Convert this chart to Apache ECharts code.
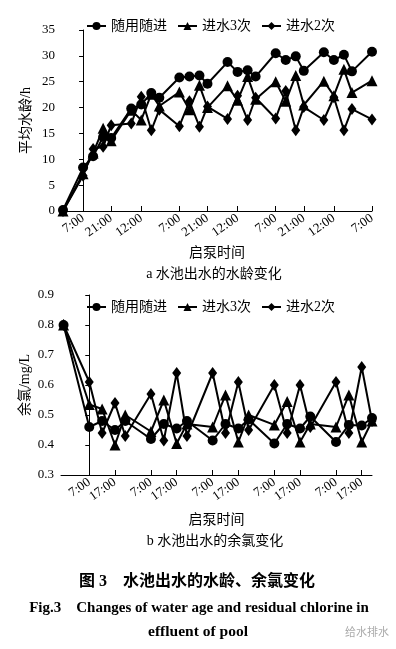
<!DOCTYPE html>
<html><head><meta charset="utf-8">
<script src="https://cdn.jsdelivr.net/npm/echarts@6/dist/echarts.min.js"></script>
<style>html,body{margin:0;padding:0;background:#fff}#c{width:396px;height:649px}</style>
</head><body><div id="c"></div>
<script>
const seriesNames = ['随用随进', '进水3次', '进水2次'];

// (a) water age, hours counted from the first 7:00 tick
const hoursA = [-10, 0, 5, 10, 14, 24, 29, 34, 38, 48, 53, 58, 62, 72, 77, 82, 86, 96, 101, 106, 110, 120, 125, 130, 134, 144];
const ageRandom = [0.2, 8.4, 10.6, 14.3, 14.1, 19.8, 20.6, 22.8, 21.9, 25.8, 26.0, 26.2, 24.6, 28.8, 26.9, 27.2, 26.0, 30.5, 29.2, 29.9, 27.1, 30.7, 29.2, 30.2, 27.0, 30.8];
const ageThree = [0, 7.2, 11.2, 16.0, 13.6, 19.5, 17.6, 22.6, 20.3, 23.0, 19.6, 24.3, 20.0, 24.2, 21.4, 26.0, 21.6, 25.0, 21.2, 26.2, 20.5, 25.1, 22.3, 27.4, 22.9, 25.2];
const ageTwo = [0, 6.8, 12.0, 12.4, 16.6, 16.9, 22.1, 15.6, 19.6, 16.4, 21.2, 16.3, 20.2, 17.8, 22.3, 17.6, 21.9, 17.9, 23.2, 15.6, 20.1, 17.6, 22.0, 15.6, 19.7, 17.7];
const tickHoursA = [0, 14, 29, 48, 62, 77, 96, 110, 125, 144];
const tickLabelsA = ['7:00', '21:00', '12:00', '7:00', '21:00', '12:00', '7:00', '21:00', '12:00', '7:00'];

// (b) residual chlorine
const hoursB = [-10, 0, 5, 10, 14, 24, 29, 34, 38, 48, 53, 58, 62, 72, 77, 82, 86, 96, 101, 106, 110];
const clRandom = [0.80, 0.46, 0.48, 0.45, 0.48, 0.42, 0.47, 0.455, 0.48, 0.415, 0.47, 0.455, 0.485, 0.405, 0.47, 0.455, 0.495, 0.41, 0.467, 0.465, 0.49];
const clThree = [0.80, 0.535, 0.52, 0.40, 0.50, 0.445, 0.55, 0.405, 0.47, 0.46, 0.567, 0.41, 0.50, 0.467, 0.545, 0.41, 0.47, 0.46, 0.567, 0.41, 0.48];
const clTwo = [0.80, 0.61, 0.44, 0.54, 0.43, 0.57, 0.415, 0.64, 0.43, 0.64, 0.44, 0.61, 0.45, 0.60, 0.44, 0.60, 0.46, 0.61, 0.44, 0.66, 0.48];
const tickHoursB = [0, 10, 24, 34, 48, 58, 72, 82, 96, 106];
const tickLabelsB = ['7:00', '17:00', '7:00', '17:00', '7:00', '17:00', '7:00', '17:00', '7:00', '17:00'];

const FONT = "'Liberation Serif', 'Noto Sans CJK SC', serif";
const symbols = ['circle', 'triangle', 'diamond'];
const symSizes = [10, 11, [9, 12]];

function mkSeries(name, idx, hours, vals, axisIdx) {
  return {
    name: name, type: 'line', xAxisIndex: axisIdx, yAxisIndex: axisIdx,
    data: hours.map((h, i) => [h, vals[i]]),
    symbol: symbols[idx], symbolSize: symSizes[idx], showAllSymbol: true,
    lineStyle: { color: '#000', width: 2 },
    itemStyle: { color: '#000' },
    animation: false, z: 3 + idx
  };
}

function mkX(grid, min, max, ticks, labels, gap) {
  return {
    type: 'value', gridIndex: grid, min: min, max: max,
    axisLine: { lineStyle: { color: '#000', width: 1 } },
    axisTick: { inside: true, length: 5, customValues: ticks, lineStyle: { color: '#000' } },
    axisLabel: { customValues: ticks, rotate: 35, margin: 6, color: '#000', fontSize: 13, fontFamily: FONT,
      formatter: v => { const k = ticks.indexOf(v); return k >= 0 ? labels[k] : ''; } },
    splitLine: { show: false },
    name: '启泵时间', nameLocation: 'middle', nameGap: gap, nameMoveOverlap: false,
    nameTextStyle: { color: '#000', fontSize: 14, fontFamily: FONT }
  };
}
function mkY(grid, min, max, interval, name, dec) {
  return {
    type: 'value', gridIndex: grid, min: min, max: max, interval: interval,
    axisLine: { show: true, lineStyle: { color: '#000', width: 1 } },
    axisTick: { show: true, length: 4, lineStyle: { color: '#000' } },
    axisLabel: { margin: 7, color: '#000', fontSize: 13, fontFamily: FONT,
      formatter: v => v.toFixed(dec) },
    splitLine: { show: false },
    name: name, nameLocation: 'middle', nameGap: 29, nameMoveOverlap: false,
    nameTextStyle: { color: '#000', fontSize: 14, fontFamily: FONT }
  };
}
function mkLegend(top) {
  return { left: 81, top: top, itemWidth: 19, itemHeight: 10, itemGap: 10, data: seriesNames,
    textStyle: { color: '#000', fontSize: 14, fontFamily: FONT } };
}

const chart = echarts.init(document.getElementById('c'), null, { renderer: 'canvas' });
chart.setOption({
  animation: false,
  backgroundColor: '#fff',
  legend: [mkLegend(14), mkLegend(295)],
  grid: [
    { left: 62, width: 310, top: 30, height: 181 },
    { left: 61, width: 311, top: 295, height: 180 }
  ],
  xAxis: [mkX(0, -10.5, 144, tickHoursA, tickLabelsA, 35), mkX(1, -11, 110, tickHoursB, tickLabelsB, 38)],
  yAxis: [mkY(0, 0, 35, 5, '平均水龄/h', 0), mkY(1, 0.3, 0.9, 0.1, '余氯/mg/L', 1)],
  series: [
    mkSeries(seriesNames[0], 0, hoursA, ageRandom, 0),
    mkSeries(seriesNames[1], 1, hoursA, ageThree, 0),
    mkSeries(seriesNames[2], 2, hoursA, ageTwo, 0),
    mkSeries(seriesNames[0], 0, hoursB, clRandom, 1),
    mkSeries(seriesNames[1], 1, hoursB, clThree, 1),
    mkSeries(seriesNames[2], 2, hoursB, clTwo, 1)
  ],
  graphic: [
    { type: 'text', style: { text: 'a 水池出水的水龄变化', x: 214, y: 274, textAlign: 'center', textVerticalAlign: 'middle', font: "14px " + FONT, fill: '#000' } },
    { type: 'text', style: { text: 'b 水池出水的余氯变化', x: 215, y: 541, textAlign: 'center', textVerticalAlign: 'middle', font: "14px " + FONT, fill: '#000' } },
    { type: 'text', style: { text: '图 3\u3000水池出水的水龄、余氯变化', x: 197, y: 582, textAlign: 'center', textVerticalAlign: 'middle', font: "bold 16px " + FONT, fill: '#000' } },
    { type: 'text', style: { text: 'Fig.3\u3000Changes of water age and residual chlorine in', x: 199, y: 608, textAlign: 'center', textVerticalAlign: 'middle', font: "bold 15px " + FONT, fill: '#000' } },
    { type: 'text', style: { text: 'effluent of pool', x: 198, y: 632, textAlign: 'center', textVerticalAlign: 'middle', font: "bold 15.5px " + FONT, fill: '#000' } },
    { type: 'text', style: { text: '给水排水', x: 345, y: 632, textAlign: 'left', textVerticalAlign: 'middle', font: "11px 'Noto Sans CJK SC'", fill: '#aaa' } }
  ]
});
</script></body></html>
